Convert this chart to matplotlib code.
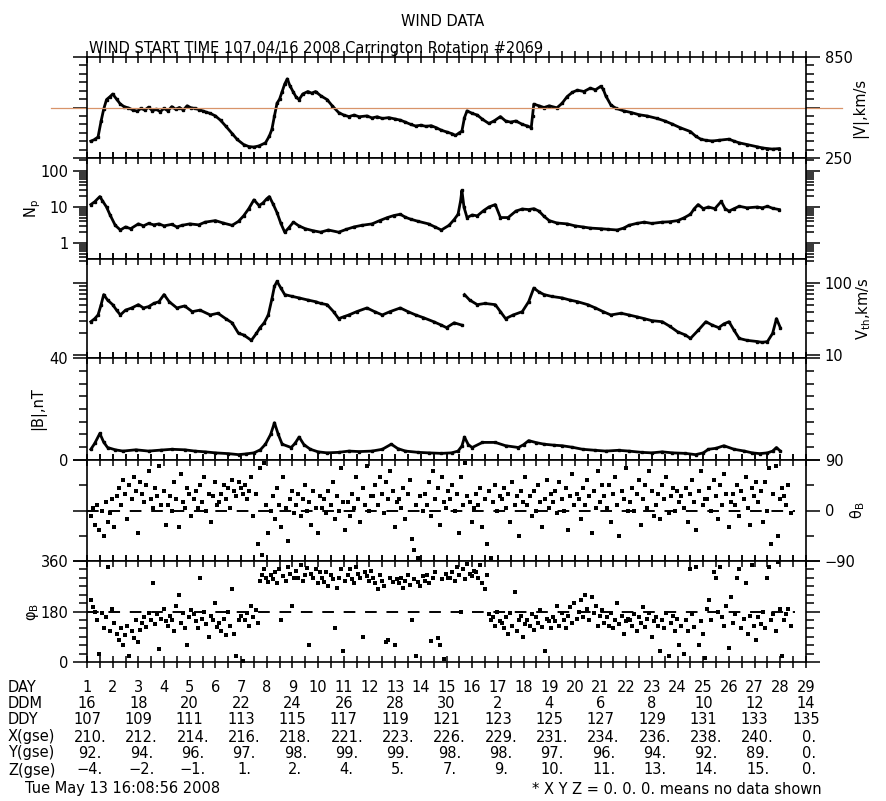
import numpy as np
import matplotlib.pyplot as plt
from matplotlib.ticker import FixedLocator, FixedFormatter, MultipleLocator, LogLocator, NullFormatter

plt.rcParams['font.family'] = ['DejaVu Sans']

# ---- data (days since start, day 107 of 2008) ----
v_day = [0.15, 0.3, 0.43, 0.55, 0.65, 0.76, 0.9, 1.0, 1.15, 1.3, 1.45, 1.6, 1.8, 1.96, 2.1, 2.25,
         2.4, 2.55, 2.7, 2.85, 3.0, 3.15, 3.3, 3.45, 3.6, 3.75, 3.9, 4.05, 4.2, 4.35, 4.5, 4.65,
         4.8, 5.0, 5.2, 5.4, 5.65, 5.85, 6.1, 6.3, 6.5, 6.7, 6.95, 7.1, 7.2, 7.3, 7.4, 7.5, 7.6,
         7.7, 7.8, 7.9, 8.04, 8.15, 8.26, 8.4, 8.6, 8.75, 8.9, 9.1, 9.35, 9.55, 9.8, 10.0, 10.2,
         10.4, 10.6, 10.9, 11.1, 11.3, 11.5, 11.75, 12.0, 12.2, 12.4, 12.6, 12.8, 13.0, 13.2, 13.4,
         13.6, 13.8, 14.0, 14.2, 14.35, 14.5, 14.6, 14.7, 14.8, 15.0, 15.2, 15.4, 15.65, 15.85,
         16.1, 16.3, 16.5, 16.7, 16.95, 17.15, 17.3, 17.35, 17.4, 17.6, 17.8, 18.0, 18.3, 18.5,
         18.7, 18.9, 19.1, 19.35, 19.6, 19.8, 20.0, 20.1, 20.2, 20.4, 20.6, 20.9, 21.2, 21.5,
         21.8, 22.2, 22.5, 22.8, 23.1, 23.5, 23.7, 23.9, 24.1, 24.35, 24.6, 25.0, 25.2, 25.4,
         25.7, 26.1, 26.3, 26.5, 26.7, 26.96]
v_val = [350, 360, 375, 470, 540, 597, 615, 630, 600, 570, 555, 548, 535, 528, 545, 535,
         552, 530, 540, 525, 545, 530, 555, 540, 550, 535, 560, 548, 545, 538, 530, 522,
         515, 500, 474, 440, 395, 360, 330, 318, 315, 322, 340, 380, 420, 500, 575, 600, 645,
         690, 720, 680, 640, 610, 597, 630, 645, 635, 645, 620, 597, 560, 520, 505, 496,
         505, 495, 500, 488, 495, 485, 490, 482, 475, 463, 450, 440, 445, 438, 442,
         430, 415, 405, 395, 384, 400, 410, 490, 530, 515, 505, 480, 455, 470,
         496, 470, 463, 470, 450, 440, 430, 500, 570, 560, 550, 560, 548, 575,
         615, 640, 653, 645, 665, 655, 675, 660, 620, 565, 545, 530, 520, 507,
         500, 485, 470, 451, 430, 407, 380, 362, 355, 351, 355, 362, 350, 340,
         330, 317, 310, 306, 303, 306]

n_day = [0.15, 0.3, 0.5, 0.6, 0.76, 0.9, 1.1, 1.3, 1.5, 1.7, 2.0, 2.2, 2.4, 2.6, 2.8, 3.0, 3.3,
         3.5, 3.7, 4.0, 4.35, 4.6, 5.0, 5.3, 5.65, 5.9, 6.1, 6.3, 6.5, 6.7, 6.85, 7.0, 7.1, 7.25,
         7.4, 7.55, 7.7, 7.85, 8.04, 8.25, 8.5, 8.8, 9.1, 9.4, 9.8, 10.1, 10.4, 10.7, 11.1, 11.4,
         11.7, 11.95, 12.2, 12.4, 12.6, 12.9, 13.3, 13.55, 13.8, 14.1, 14.3, 14.45, 14.55, 14.6,
         14.68, 14.8, 15.0, 15.2, 15.45, 15.65, 15.9, 16.1, 16.4, 16.7, 16.95, 17.2, 17.4, 17.6,
         17.8, 18.0, 18.3, 18.7, 19.0, 19.3, 19.6, 20.0, 20.3, 20.65, 20.9, 21.1, 21.4, 21.7,
         22.0, 22.4, 22.7, 23.0, 23.25, 23.5, 23.65, 23.8, 24.0, 24.2, 24.45, 24.7, 24.85, 25.0,
         25.2, 25.4, 25.7, 26.1, 26.3, 26.5, 26.7, 26.96]
n_val = [11.7, 14, 19.5, 15, 10, 6, 3.1, 2.3, 2.8, 2.5, 3.4, 3.0, 3.5, 3.2, 3.4, 3.0, 3.3,
         2.8, 3.1, 3.4, 3.2, 3.8, 4.2, 3.6, 3.1, 4.0, 5.7, 9, 15.8, 11, 12.9, 17, 19.5, 12,
         7, 3.5, 2.0, 2.6, 3.8, 3.0, 2.5, 2.2, 2.0, 2.3, 2.0, 2.4, 2.8, 3.1, 3.4, 4.2,
         5.1, 5.8, 6.3, 5.2, 4.6, 4.0, 3.4, 2.8, 2.3, 3.1, 4.5, 6.3, 15, 29,
         10, 5.1, 6.0, 5.7, 8, 10, 11.7, 5.1, 5.1, 7.7, 8.8, 8.5, 9, 7.7,
         5.5, 4.2, 3.6, 3.4, 3.0, 2.8, 2.6, 2.5, 2.4, 2.3, 2.6, 3.1, 3.5, 3.8,
         3.5, 3.8, 3.9, 4.2, 5, 6.3, 9, 11.7, 9, 10, 9, 14.3, 9, 7.7,
         9, 10.5, 9.5, 10, 9.5, 10.5, 9.2, 8.5]

vth_day = [0.15, 0.3, 0.43, 0.55, 0.65, 0.8, 1.0, 1.15, 1.3, 1.5, 1.74, 2.0, 2.2, 2.4, 2.6, 2.8,
           3.0, 3.2, 3.5, 3.8, 4.1, 4.4, 4.8, 5.1, 5.4, 5.65, 5.9, 6.1, 6.4, 6.6, 6.74, 6.9, 7.06,
           7.2, 7.3, 7.4, 7.55, 7.7, 8.0, 8.26, 8.6, 8.9, 9.1, 9.35, 9.6, 9.8, 10.0, 10.2, 10.5,
           10.9, 11.2, 11.5, 11.8, 12.2, 12.5, 12.8, 13.1, 13.5, 13.8, 14.0, 14.3, 14.6, 14.65,
           14.7, 14.9, 15.2, 15.5, 15.9, 16.1, 16.3, 16.6, 16.95, 17.2, 17.4, 17.6, 17.8, 18.1,
           18.5, 18.8, 19.1, 19.5, 19.8, 20.1, 20.4, 20.8, 21.1, 21.4, 21.7, 22.0, 22.4, 22.7,
           23.0, 23.3, 23.5, 23.8, 24.1, 24.35, 24.6, 24.8, 25.0, 25.2, 25.4, 25.7, 26.1, 26.3,
           26.5, 26.7, 26.85, 27.0]
vth_val = [29, 32, 36, 50, 69, 58, 50, 42, 36, 42, 45, 50, 45, 47, 52, 55,
           69, 55, 45, 48, 40, 42, 36, 38, 32, 28, 20, 19, 16, 20, 24, 28, 36,
           60, 90, 105, 85, 69, 65, 62, 58, 55, 52, 50, 40, 32, 34, 36, 40,
           45, 40, 36, 40, 45, 40, 36, 33, 29, 26, 24, 28, 26, np.nan,
           69, 58, 50, 52, 50, 40, 32, 36, 40, 55, 85, 75, 69, 65,
           62, 58, 55, 50, 45, 40, 36, 38, 36, 34, 32, 30, 29, 25,
           21, 19, 17, 22, 29, 26, 24, 27, 29, 22, 17, 16, 15.4, 15,
           15.4, 20, 32, 24]

b_day = [0.15, 0.3, 0.5, 0.65, 0.8, 1.1, 1.4, 1.9, 2.4, 2.9, 3.3, 3.8, 4.2, 4.6, 5.0, 5.5,
         5.9, 6.2, 6.5, 6.75, 6.95, 7.15, 7.3, 7.45, 7.6, 7.95, 8.1, 8.26, 8.45, 8.7, 9.0,
         9.35, 9.8, 10.2, 10.6, 11.1, 11.5, 11.85, 12.1, 12.4, 12.9, 13.3, 13.8, 14.2, 14.45,
         14.6, 14.7, 14.85, 15.0, 15.4, 15.9, 16.3, 16.8, 17.0, 17.2, 17.5, 17.8, 18.2, 18.5,
         18.9, 19.3, 19.8, 20.2, 20.7, 21.1, 21.6, 22.0, 22.4, 22.8, 23.3, 23.7, 24.0, 24.2,
         24.5, 24.8, 25.2, 25.6, 25.9, 26.2, 26.5, 26.7, 26.85, 27.0]
b_val = [4.2, 6.5, 10.4, 7.0, 4.9, 4.0, 3.5, 4.0, 3.5, 3.9, 4.2, 4.0, 3.5, 3.2, 2.8, 2.5,
         2.1, 2.4, 2.8, 4.0, 6.2, 10, 14.6, 10, 6.2, 4.9, 6.5, 9.0, 6.0, 4.2, 3.2,
         2.8, 3.0, 3.5, 3.3, 3.5, 4.2, 6.2, 4.5, 3.5, 3.0, 2.8, 2.6, 2.8, 3.5,
         5.5, 9.0, 6.0, 4.9, 6.9, 6.9, 5.6, 4.9, 6.0, 7.6, 6.8, 6.2, 5.8, 5.6,
         5.0, 4.2, 3.8, 3.5, 3.8, 3.5, 3.0, 2.8, 3.2, 2.8, 2.6, 2.1, 2.8, 4.2,
         4.6, 5.6, 4.2, 3.5, 2.8, 2.5, 2.8, 3.5, 4.9, 3.5]

# field angles, one value every 1/12 day
theta_b = [
    -10, 5, -25, 10, -35, 0, -45, 15, -20, -5, 20, -30,
    25, 40, 10, 55, 30, -15, 45, 20, 60, 35, -40, 50,
    30, 15, 45, 70, 20, 5, 40, 25, 80, 10, 35, -25,
    10, 25, 0, 50, 20, -30, 65, 15, 5, 40, 30, -10,
    20, 35, 5, 45, 15, 60, 0, 30, -20, 25, 50, 10,
    15, 30, 45, 20, 40, 5, 55, 35, 25, 50, 40, 30,
    45, 20, 35, 60, -10, 30, -60, 75, -80, 85, 10, -40,
    0, 25, -15, 40, 10, -30, 60, 5, -55, 20, 35, -5,
    10, 30, -10, 20, 45, 0, 15, -25, 35, 5, -40, 25,
    5, 20, -5, 35, 10, 50, -15, 25, 0, 75, 15, -35,
    15, -10, 30, 5, 60, 20, -20, 40, 10, 80, 0, 25,
    25, 45, 10, 60, 30, -5, 50, 20, 70, 35, -30, 15,
    20, 5, 40, -15, 30, 55, -50, -70, 10, -85, 25, 0,
    30, 10, 50, -10, 70, 20, 40, -25, 60, 15, 5, 35,
    20, 45, 0, 30, -40, 60, 10, 85, 25, 15, -20, 5,
    30, 10, 40, -30, 20, -60, 35, -85, 15, 45, 0, 25,
    20, 40, 5, 30, -20, 50, 10, 25, -45, 35, 15, 60,
    10, 25, -10, 35, 0, 45, 15, -30, 20, 55, 5, 30,
    15, 35, -5, 50, 20, 0, 40, -35, 25, 65, 10, 30,
    20, -15, 40, 10, 55, 25, -40, 35, 5, 70, 15, 45,
    25, 5, 45, -20, 30, 60, 10, -45, 35, 20, 75, 0,
    15, 40, 0, 30, 55, -25, 20, 45, 5, 70, 35, -10,
    10, 30, -15, 45, 20, 60, -5, 25, 40, 0, 35, 15,
    25, 5, 40, -20, 30, 55, 15, -35, 35, 70, 10, 20,
    20, 40, 0, 55, 25, -15, 45, 10, 65, 30, -30, 15,
    30, 10, 45, -10, 35, 20, 60, 5, -25, 40, 25, 50,
    15, 35, -20, 50, 0, 75, -60, 30, 80, -45, 20, 40,
    25, 10, 45, -5]
phi_b = [
    220, 195, 180, 150, 30, 175, 120, 160, 340, 110, 190, 140,
    100, 80, 120, 60, 95, 130, 20, 110, 85, 150, 70, 115,
    140, 160, 125, 175, 150, 280, 135, 170, 45, 155, 190, 145,
    130, 165, 150, 110, 200, 240, 140, 175, 120, 60, 160, 185,
    170, 145, 120, 300, 155, 180, 135, 90, 165, 150, 210, 125,
    140, 110, 155, 95, 180, 130, 260, 100, 20, 150, 165, 5,
    150, 175, 130, 200, 160, 185, 140, 290, 310, 330, 300, 285,
    310, 295, 320, 280, 330, 150, 305, 290, 340, 315, 200, 300,
    325, 300, 345, 290, 310, 335, 60, 315, 300, 330, 280, 320,
    300, 285, 320, 270, 310, 295, 120, 265, 300, 330, 40, 290,
    310, 330, 295, 280, 340, 315, 300, 90, 320, 305, 290, 325,
    300, 280, 260, 310, 290, 270, 70, 80, 300, 285, 60, 295,
    280, 300, 265, 290, 310, 275, 150, 295, 20, 285, 270, 305,
    290, 310, 280, 75, 300, 320, 85, 60, 295, 10, 315, 300,
    300, 320, 290, 340, 310, 180, 330, 295, 350, 315, 305, 325,
    320, 300, 345, 280, 260, 310, 170, 150, 160, 130, 180, 145,
    140, 120, 160, 100, 175, 130, 250, 110, 150, 165, 90, 135,
    150, 130, 170, 115, 160, 140, 185, 125, 40, 155, 145, 120,
    160, 145, 200, 130, 175, 150, 120, 165, 195, 140, 210, 155,
    180, 220, 160, 240, 190, 150, 230, 175, 200, 130, 165, 185,
    140, 160, 130, 175, 120, 150, 210, 135, 165, 100, 145, 155,
    150, 130, 170, 110, 160, 140, 195, 125, 155, 175, 90, 145,
    160, 130, 40, 150, 120, 175, 20, 140, 165, 110, 155, 60,
    130, 30, 150, 110, 330, 170, 125, 340, 60, 145, 100, 15,
    190, 220, 150, 320, 300, 180, 340, 160, 130, 200, 50, 230,
    140, 170, 300, 330, 120, 155, 280, 100, 165, 345, 130, 80,
    160, 135, 180, 120, 300, 340, 150, 170, 110, 355, 190, 20,
    150, 170, 190, 130]
angle_step = 1 / 12.0
angle_t0 = 0.15

# table under the plot
day_nums = list(range(1, 30))
ddm = [16, 18, 20, 22, 24, 26, 28, 30, 2, 4, 6, 8, 10, 12, 14]
ddy = [107, 109, 111, 113, 115, 117, 119, 121, 123, 125, 127, 129, 131, 133, 135]
x_gse = ['210.', '212.', '214.', '216.', '218.', '221.', '223.', '226.', '229.', '231.', '234.',
         '236.', '238.', '240.', '0.']
y_gse = ['92.', '94.', '96.', '97.', '98.', '99.', '99.', '98.', '98.', '97.', '96.', '94.',
         '92.', '89.', '0.']
z_gse = ['\u22124.', '\u22122.', '\u22121.', '1.', '2.', '4.', '5.', '7.', '9.', '10.', '11.',
         '13.', '14.', '15.', '0.']

W, H = 886, 801
fig = plt.figure(figsize=(W / 100, H / 100), dpi=100)

L, R = 87, 806
tops = [57, 158, 259, 358, 460, 561, 662]


def panel(i):
    ax = fig.add_axes([L / W, 1 - tops[i + 1] / H, (R - L) / W, (tops[i + 1] - tops[i]) / H])
    ax.set_xlim(0, 28)
    ax.xaxis.set_major_locator(MultipleLocator(0.5))
    ax.tick_params(axis='x', which='major', direction='inout', length=8, width=1.1,
                   top=True, bottom=True, labelbottom=False)
    ax.tick_params(axis='y', which='both', direction='out', left=True, right=True, width=1.1,
                   labelsize=10.5)
    ax.tick_params(axis='y', which='major', length=10)
    ax.tick_params(axis='y', which='minor', length=6)
    for s in ax.spines.values():
        s.set_linewidth(1.2)
    return ax


def fixed_ticks(ax, locs, labels, minor_step=None, side='left'):
    ax.yaxis.set_major_locator(FixedLocator(locs))
    ax.yaxis.set_major_formatter(FixedFormatter(labels))
    if minor_step:
        ax.yaxis.set_minor_locator(MultipleLocator(minor_step))
    ax.tick_params(axis='y', labelleft=(side == 'left'), labelright=(side == 'right'))


line_kw = dict(color='black', lw=2.0, marker='s', ms=2.0)
dot_kw = dict(s=6, c='black', marker='s', linewidths=0)

# |V|
ax = panel(0)
ax.plot(v_day, v_val, **line_kw)
ax.set_ylim(250, 850)
fixed_ticks(ax, [250, 550, 850], ['250', '', '850'], 50, side='right')
ax.plot([-0.05, 1.05], [550, 550], color='#d8946a', lw=0.9,
        transform=ax.get_yaxis_transform(), clip_on=False)
ax.text(1.075, 0.5, '|V|,km/s', transform=ax.transAxes, rotation=90,
        va='center', ha='center', fontsize=10.5)

# Np
ax = panel(1)
ax.plot(n_day, n_val, **line_kw)
ax.set_yscale('log')
ax.set_ylim(0.36, 230)
fixed_ticks(ax, [1, 10, 100], ['1', '10', '100'], side='left')
ax.yaxis.set_minor_locator(LogLocator(subs=np.arange(2, 10)))
ax.yaxis.set_minor_formatter(NullFormatter())
ax.text(-0.075, 0.5, '$\\mathregular{N_p}$', transform=ax.transAxes, rotation=90,
        va='center', ha='center', fontsize=10.5)

# Vth
ax = panel(2)
ax.plot(vth_day, vth_val, **line_kw)
ax.set_yscale('log')
ax.set_ylim(9.1, 215)
fixed_ticks(ax, [10, 100], ['10', '100'], side='right')
ax.yaxis.set_minor_locator(LogLocator(subs=np.arange(2, 10)))
ax.yaxis.set_minor_formatter(NullFormatter())
ax.text(1.08, 0.5, '$\\mathregular{V_{th}}$,km/s', transform=ax.transAxes, rotation=90,
        va='center', ha='center', fontsize=10.5)

# |B|
ax = panel(3)
ax.plot(b_day, b_val, **line_kw)
ax.set_ylim(0, 40)
fixed_ticks(ax, [0, 40], ['0', '40'], 5, side='left')
ax.text(-0.068, 0.5, '|B|,nT', transform=ax.transAxes, rotation=90,
        va='center', ha='center', fontsize=10.5)

t_ang = angle_t0 + np.arange(len(theta_b)) * angle_step
t_phi = angle_t0 + np.arange(len(phi_b)) * angle_step

# theta_B
ax = panel(4)
ax.scatter(t_ang, theta_b, **dot_kw)
ax.axhline(0, color='black', lw=1.4, ls=(0, (6, 5)), xmax=0.985)
ax.set_ylim(-90, 90)
fixed_ticks(ax, [-90, 0, 90], ['\u221290', '0', '90'], 45, side='right')
ax.text(1.072, 0.5, '$\\mathregular{\\theta_B}$', transform=ax.transAxes, rotation=90,
        va='center', ha='center', fontsize=10.5)

# phi_B
ax = panel(5)
ax.scatter(t_phi, phi_b, **dot_kw)
ax.axhline(180, color='black', lw=1.4, ls=(0, (6, 5)), xmax=0.985)
ax.set_ylim(0, 360)
fixed_ticks(ax, [0, 180, 360], ['0', '180', '360'], 30, side='left')
ax.text(-0.075, 0.5, '$\\mathregular{\\varphi_B}$', transform=ax.transAxes, rotation=90,
        va='center', ha='center', fontsize=10.5)

# titles
fig.text(443 / W, 1 - 22 / H, 'WIND DATA', ha='center', va='center', fontsize=10.5)
fig.text(89 / W, 1 - 56 / H, 'WIND START TIME 107 04/16 2008 Carrington Rotation #2069',
         ha='left', va='bottom', fontsize=10.5)

# table
fs = 10.5
row_y = [687, 703, 720, 737, 753, 770]
row_names = ['DAY', 'DDM', 'DDY', 'X(gse)', 'Y(gse)', 'Z(gse)']


def xpix(d):
    return (L + (R - L) * d / 28) / W


for name, y in zip(row_names, row_y):
    fig.text(8 / W, 1 - y / H, name, ha='left', va='center', fontsize=fs)
for i, d in enumerate(day_nums):
    fig.text(xpix(i), 1 - row_y[0] / H, str(d), ha='center', va='center', fontsize=fs)
for k in range(len(ddy)):
    d = 2 * k
    fig.text(xpix(d), 1 - row_y[1] / H, str(ddm[k]), ha='center', va='center', fontsize=fs)
    fig.text(xpix(d), 1 - row_y[2] / H, str(ddy[k]), ha='center', va='center', fontsize=fs)
    fig.text(xpix(d) + 3 / W, 1 - row_y[3] / H, x_gse[k], ha='center', va='center', fontsize=fs)
    fig.text(xpix(d) + 3 / W, 1 - row_y[4] / H, y_gse[k], ha='center', va='center', fontsize=fs)
    fig.text(xpix(d) + 3 / W, 1 - row_y[5] / H, z_gse[k], ha='center', va='center', fontsize=fs)

fig.text(25 / W, 1 - 789 / H, 'Tue May 13 16:08:56 2008', ha='left', va='center', fontsize=fs)
fig.text(822 / W, 1 - 789 / H, '* X Y Z = 0. 0. 0. means no data shown', ha='right',
         va='center', fontsize=fs)

fig.savefig('out.png', dpi=100)
